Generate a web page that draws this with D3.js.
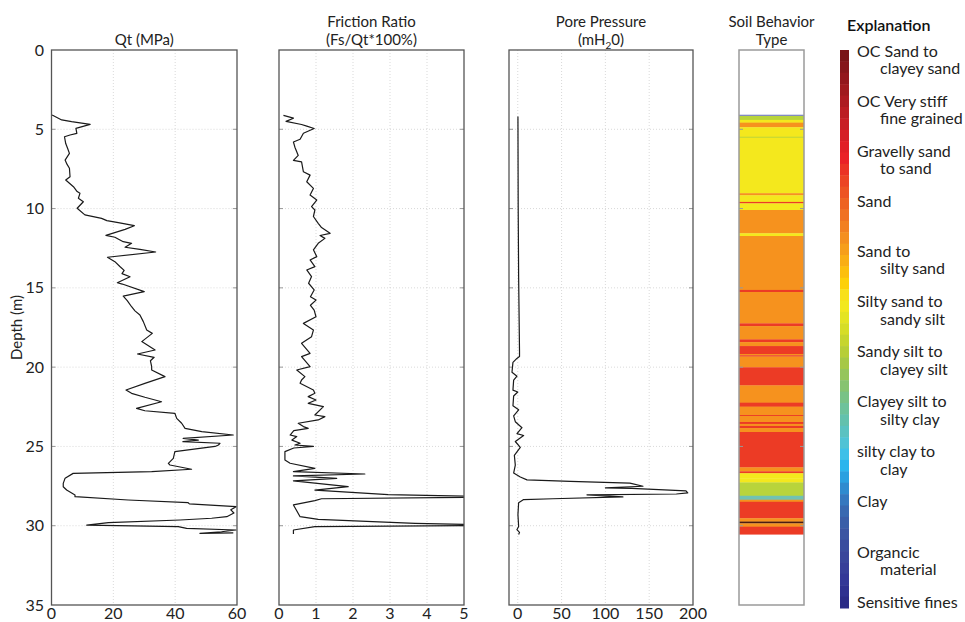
<!DOCTYPE html>
<html>
<head>
<meta charset="utf-8">
<script src="https://cdn.jsdelivr.net/npm/d3@7"></script>
<style>
  body { margin: 0; background: #fff; }
  svg { font-family: Lato, "Open Sans", sans-serif; }
</style>
</head>
<body>
<svg id="chart" width="965" height="622"></svg>
<script>
// depth axis (m)
const depthTicks = [0, 5, 10, 15, 20, 25, 30, 35];

// cone resistance Qt (MPa) vs depth
const qtDepth = [4.1, 4.41, 4.52, 4.69, 4.94, 5.26, 5.36, 5.47, 5.9, 6.2, 6.52, 6.94, 7.2, 7.46, 7.99, 8.2, 8.62, 8.93, 9.04, 9.35, 9.57, 9.98, 10.4, 10.62, 10.76, 10.89, 11.08, 11.31, 11.69, 11.81, 12.09, 12.19, 12.44, 12.57, 12.74, 13.07, 13.35, 13.67, 13.9, 14.1, 14.3, 14.68, 14.76, 15.24, 15.52, 15.8, 16.19, 16.45, 16.71, 17.13, 17.66, 17.87, 18.39, 18.92, 19.17, 19.38, 19.6, 19.97, 20.18, 20.6, 21.02, 21.44, 21.65, 21.9, 22.18, 22.6, 22.75, 22.91, 23.23, 23.54, 23.86, 24.07, 24.28, 24.49, 24.6, 24.7, 24.8, 24.91, 25.0, 25.33, 25.75, 26.07, 26.17, 26.44, 26.59, 26.7, 27.0, 27.33, 27.54, 27.75, 28.06, 28.17, 28.38, 28.55, 28.62, 28.8, 29.0, 29.2, 29.43, 29.53, 29.64, 29.81, 29.96, 30.06, 30.17, 30.27, 30.38, 30.48, 30.45];
const qtValue = [0.2, 3.3, 6.5, 12.5, 7.9, 8.2, 6.0, 4.2, 4.6, 5.2, 5.8, 4.4, 5.0, 5.8, 6.0, 4.6, 7.1, 8.3, 9.2, 8.7, 10.3, 8.3, 10.8, 16.2, 17.9, 21.6, 26.8, 23.8, 17.6, 20.5, 23.2, 25.9, 23.8, 28.6, 33.7, 18.1, 20.5, 22.2, 23.5, 22.8, 25.4, 21.3, 22.9, 30.0, 23.2, 24.5, 25.9, 27.0, 28.6, 29.7, 30.8, 32.6, 29.2, 33.5, 27.8, 33.2, 32.0, 32.4, 32.4, 36.7, 30.2, 24.1, 25.9, 30.2, 35.6, 27.5, 30.2, 39.9, 40.5, 42.1, 43.2, 48.6, 58.8, 42.6, 47.5, 42.5, 54.5, 54.0, 52.9, 39.9, 39.4, 37.8, 38.3, 45.3, 32.4, 7.0, 4.4, 3.8, 3.8, 4.9, 7.6, 7.6, 24.8, 44.2, 44.6, 59.7, 58.0, 59.0, 56.7, 51.8, 41.6, 18.4, 11.4, 41.0, 43.7, 59.7, 55.0, 48.0, 58.8];

// friction ratio (%) vs depth
const frDepth = [4.12, 4.3, 4.5, 4.7, 4.8, 4.95, 5.25, 5.63, 5.8, 6.13, 6.65, 6.96, 7.05, 7.68, 7.89, 8.31, 8.73, 9.15, 9.46, 9.88, 10.09, 10.5, 10.93, 11.2, 11.56, 11.7, 11.88, 12.19, 12.6, 13.03, 13.24, 13.66, 13.87, 14.29, 14.71, 15.13, 15.56, 15.77, 16.1, 16.4, 16.82, 17.24, 17.66, 18.08, 18.5, 19.13, 19.34, 19.97, 20.18, 20.6, 20.81, 21.02, 21.44, 21.65, 21.86, 22.07, 22.28, 22.49, 23.02, 23.12, 23.33, 23.54, 23.75, 23.86, 24.0, 24.28, 24.38, 24.6, 24.8, 24.91, 25.0, 25.1, 25.33, 25.86, 26.06, 26.38, 26.59, 26.74, 26.86, 27.01, 27.17, 27.54, 27.75, 28.04, 28.15, 28.2, 28.3, 28.42, 28.69, 29.43, 29.6, 29.85, 29.93, 29.99, 30.06, 30.27, 30.52];
const frValue = [0.12, 0.39, 0.19, 0.61, 0.75, 0.95, 0.66, 0.57, 0.39, 0.43, 0.52, 0.39, 0.61, 0.66, 0.84, 0.75, 0.93, 0.84, 1.02, 0.88, 0.97, 0.93, 1.06, 1.15, 1.38, 1.11, 1.24, 1.06, 0.93, 1.02, 0.84, 0.97, 0.75, 0.88, 0.8, 0.95, 0.85, 1.0, 0.85, 0.95, 1.0, 0.66, 0.93, 0.88, 0.61, 0.84, 0.61, 0.84, 0.48, 0.7, 0.61, 0.57, 0.93, 0.97, 0.79, 1.0, 0.79, 1.2, 0.97, 1.24, 1.06, 0.52, 0.66, 0.79, 0.4, 0.3, 0.48, 0.35, 0.57, 0.43, 0.93, 0.4, 0.16, 0.16, 0.3, 0.97, 0.39, 2.32, 0.39, 1.56, 0.39, 1.87, 0.97, 2.95, 5.4, 5.4, 1.15, 0.97, 0.39, 0.57, 1.06, 3.68, 5.4, 5.4, 0.97, 0.39, 0.39];

// pore pressure (m H2O) vs depth
const ppDepth = [4.19, 10.0, 14.34, 19.0, 19.33, 19.45, 19.7, 20.32, 20.57, 20.82, 21.45, 21.57, 21.82, 22.44, 22.69, 23.07, 23.44, 23.82, 24.19, 24.31, 24.69, 25.06, 25.56, 26.18, 26.68, 26.93, 27.11, 27.2, 27.31, 27.51, 27.61, 27.65, 27.8, 27.93, 28.0, 28.05, 28.18, 28.3, 28.35, 28.55, 29.3, 30.05, 30.25, 30.42, 30.55];
const ppValue = [0.2, 0.5, 1, 2, 2, -1, -5.5, -6.6, -0.9, -4.7, -5.5, 0, -4.7, -5.5, 1, -4.7, -2.8, 4.8, -0.9, 6.7, -2.8, 2.9, -3.9, -2.8, -4.7, 2.9, 10.5, 60, 128, 143, 100, 130, 192, 194, 181, 79, 120, 40, 6.7, 1, 0.2, 1, -1, 2, 1];

// soil behaviour type layers (zone number, 1 = sensitive fines ... 12 = OC sand)
const soilTop  = [4.08, 4.16, 4.41, 4.58, 4.87, 5.47, 5.53, 9.03, 9.16, 9.58, 9.67, 10.09, 11.56, 11.73, 15.13, 15.26, 17.24, 17.41, 18.25, 18.42, 18.67, 19.17, 19.25, 19.33, 20.01, 21.15, 22.24, 22.49, 23.02, 23.08, 23.46, 23.58, 23.71, 23.84, 24.09, 26.32, 26.57, 26.69, 26.86, 27.02, 27.27, 28.11, 28.36, 28.49, 29.53, 29.74, 29.85, 30.06];
const soilBase = [4.16, 4.41, 4.58, 4.87, 5.47, 5.53, 9.03, 9.16, 9.58, 9.67, 10.09, 11.56, 11.73, 15.13, 15.26, 17.24, 17.41, 18.25, 18.42, 18.67, 19.17, 19.25, 19.33, 20.01, 21.15, 22.24, 22.49, 23.02, 23.08, 23.46, 23.58, 23.71, 23.84, 24.09, 26.32, 26.57, 26.69, 26.86, 27.02, 27.27, 28.11, 28.36, 28.49, 29.53, 29.74, 29.85, 30.06, 30.54];
const soilZone = [3, 7, 8, 9, 8, 7, 8, 9, 8, 10, 8, 9, 8, 9, 10, 9, 10, 9, 10, 9, 10, 9, 10, 9, 10, 9, 10, 9, 10, 9, 10, 9, 10, 9, 10, 9, 10, 8, 8, 8, 7, 6, 9, 10, 9, 12, 9, 10];
const zoneList   = [3, 6, 7, 8, 9, 10, 12];
const zoneColors = ["#8189c4", "#70c2b1", "#b8d43b", "#f4e81d", "#f6921e", "#ec3b25", "#4a1c12"];

// explanation
const legendLines = [
  ["OC Sand to", "clayey sand"], ["OC Very stiff", "fine grained"], ["Gravelly sand", "to sand"],
  ["Sand"], ["Sand to", "silty sand"], ["Silty sand to", "sandy silt"], ["Sandy silt to", "clayey silt"],
  ["Clayey silt to", "silty clay"], ["silty clay to", "clay"], ["Clay"], ["Organcic", "material"], ["Sensitive fines"]
];
const legendRamp = ["#7a1517", "#86161a", "#93171c", "#a01a1e", "#ad1b21", "#bb1d23", "#c81e25", "#d51f26", "#e11f26", "#ea2127",
  "#eb3325", "#ec4424", "#ed5323", "#ee6222", "#f07122", "#f28021", "#f48f1f", "#f69e1b", "#f9ae15", "#fcbf0d",
  "#fdd008", "#f8e01a", "#f2e81f", "#e4e423", "#d6dd27", "#c6d52e", "#b7ce37", "#a6c846", "#95c55b", "#86c370",
  "#78c286", "#6dc29b", "#63c1ad", "#5ac2c1", "#4fc3d5", "#3ec0e8", "#2bb5ed", "#2aa0e0", "#2f8bcf", "#3578bf",
  "#3869b1", "#3a5ea8", "#3b55a2", "#3a4d9e", "#39469b", "#373f99", "#333897", "#2e3190", "#2a2b87"];

const svg = d3.select("#chart");
const y = d3.scaleLinear().domain([0, 35]).range([50, 605]);

const panels = [
  { title: ["Qt (MPa)"], left: 51.5, right: 237, domain: [0, 60], ticks: [0, 20, 40, 60], depth: qtDepth, value: qtValue },
  { title: ["Friction Ratio", "(Fs/Qt*100%)"], left: 279, right: 464, domain: [0, 5], ticks: [0, 1, 2, 3, 4, 5], depth: frDepth, value: frValue },
  { title: ["Pore Pressure", null], left: 509, right: 693, domain: [-10, 200], ticks: [0, 50, 100, 150, 200], depth: ppDepth, value: ppValue }
];

panels.forEach((p, i) => {
  const x = d3.scaleLinear().domain(p.domain).range([p.left, p.right]);
  const g = svg.append("g");

  // dotted grid
  g.selectAll(".hgrid").data(depthTicks.slice(1, -1)).enter().append("line")
    .attr("x1", p.left).attr("x2", p.right)
    .attr("y1", d => y(d)).attr("y2", d => y(d))
    .attr("stroke", "#cfcfcf").attr("stroke-width", 0.8).attr("stroke-dasharray", "1,2");
  g.selectAll(".vgrid").data(p.ticks.filter(t => t > p.domain[0] && t < p.domain[1])).enter().append("line")
    .attr("x1", d => x(d)).attr("x2", d => x(d))
    .attr("y1", y(0)).attr("y2", y(35))
    .attr("stroke", "#cfcfcf").attr("stroke-width", 0.8).attr("stroke-dasharray", "1,2");

  // small inner ticks
  depthTicks.slice(1, -1).forEach(d => {
    g.append("line").attr("x1", p.left).attr("x2", p.left + 4).attr("y1", y(d)).attr("y2", y(d)).attr("stroke", "#999");
    g.append("line").attr("x1", p.right - 4).attr("x2", p.right).attr("y1", y(d)).attr("y2", y(d)).attr("stroke", "#999");
  });

  // data line, clipped to the frame
  const clipId = "clip" + i;
  svg.append("clipPath").attr("id", clipId).append("rect")
    .attr("x", p.left).attr("y", y(0)).attr("width", p.right - p.left).attr("height", y(35) - y(0));
  const pts = p.depth.map((d, k) => [p.value[k], d]);
  g.append("path").datum(pts)
    .attr("clip-path", `url(#${clipId})`)
    .attr("fill", "none").attr("stroke", "#1a1a1a").attr("stroke-width", 1.2)
    .attr("stroke-linejoin", "round")
    .attr("d", d3.line().x(d => x(d[0])).y(d => y(d[1])));

  // frame
  g.append("rect").attr("x", p.left).attr("y", y(0))
    .attr("width", p.right - p.left).attr("height", y(35) - y(0))
    .attr("fill", "none").attr("stroke", "#555").attr("stroke-width", 1.3);

  // x tick labels
  g.selectAll(".xl").data(p.ticks).enter().append("text")
    .attr("x", d => x(d)).attr("y", 619)
    .attr("text-anchor", "middle").attr("font-size", 16).attr("fill", "#222")
    .text(d => d);

  // title
  const cx = (p.left + p.right) / 2;
  if (p.title.length === 1) {
    g.append("text").attr("x", cx).attr("y", 45).attr("text-anchor", "middle")
      .attr("font-size", 15).attr("fill", "#222").text(p.title[0]);
  } else {
    g.append("text").attr("x", cx).attr("y", 27).attr("text-anchor", "middle")
      .attr("font-size", 15).attr("fill", "#222").text(p.title[0]);
    const t2 = g.append("text").attr("x", cx).attr("y", 45).attr("text-anchor", "middle")
      .attr("font-size", 15).attr("fill", "#222");
    if (p.title[1]) {
      t2.text(p.title[1]);
    } else {
      t2.append("tspan").text("(mH");
      t2.append("tspan").attr("font-size", 10).attr("dy", 4).text("2");
      t2.append("tspan").attr("dy", -4).text("0)");
    }
  }

  // depth axis labels on the first panel
  if (i === 0) {
    g.selectAll(".yl").data(depthTicks).enter().append("text")
      .attr("x", 44).attr("y", d => y(d)).attr("dy", "0.35em")
      .attr("text-anchor", "end").attr("font-size", 16).attr("fill", "#222")
      .text(d => d);
    g.append("text").attr("transform", `translate(22,${(y(0) + y(35)) / 2}) rotate(-90)`)
      .attr("text-anchor", "middle").attr("font-size", 15).attr("fill", "#222")
      .text("Depth (m)");
  }
});

// soil behaviour type column
const soilLeft = 739, soilRight = 804;
const zoneColor = d3.scaleOrdinal().domain(zoneList).range(zoneColors);
const sg = svg.append("g");
sg.selectAll("rect.layer").data(soilZone).enter().append("rect")
  .attr("x", soilLeft).attr("width", soilRight - soilLeft)
  .attr("y", (d, k) => y(soilTop[k]))
  .attr("height", (d, k) => y(soilBase[k]) - y(soilTop[k]) + 0.3)
  .attr("fill", d => zoneColor(d));
depthTicks.slice(1, -1).forEach(d => {
  sg.append("line").attr("x1", soilLeft).attr("x2", soilLeft + 4).attr("y1", y(d)).attr("y2", y(d)).attr("stroke", "#999");
  sg.append("line").attr("x1", soilRight - 4).attr("x2", soilRight).attr("y1", y(d)).attr("y2", y(d)).attr("stroke", "#999");
});
sg.append("rect").attr("x", soilLeft).attr("y", y(0))
  .attr("width", soilRight - soilLeft).attr("height", y(35) - y(0))
  .attr("fill", "none").attr("stroke", "#9a9a9a").attr("stroke-width", 1.5);
sg.append("text").attr("x", (soilLeft + soilRight) / 2).attr("y", 27).attr("text-anchor", "middle")
  .attr("font-size", 15).attr("fill", "#222").text("Soil Behavior");
sg.append("text").attr("x", (soilLeft + soilRight) / 2).attr("y", 45).attr("text-anchor", "middle")
  .attr("font-size", 15).attr("fill", "#222").text("Type");

// explanation colour bar
const barY = d3.scaleBand().domain(d3.range(legendRamp.length)).range([50, 608]);
const lg = svg.append("g");
lg.selectAll("rect").data(legendRamp).enter().append("rect")
  .attr("x", 840).attr("width", 9)
  .attr("y", (d, k) => barY(k)).attr("height", barY.bandwidth() + 0.5)
  .attr("fill", d => d);
lg.append("text").attr("x", 847).attr("y", 31).attr("font-size", 16)
  .attr("font-weight", 600).attr("fill", "#111").text("Explanation");

const labelY = d3.scaleLinear().domain([0, legendLines.length - 1]).range([51, 602]);
legendLines.forEach((lines, k) => {
  lines.forEach((s, j) => {
    lg.append("text")
      .attr("x", j === 0 ? 857 : 880)
      .attr("y", labelY(k) + j * 17.5).attr("dy", "0.35em")
      .attr("font-size", 16).attr("fill", "#222")
      .text(s);
  });
});
</script>
</body>
</html>
